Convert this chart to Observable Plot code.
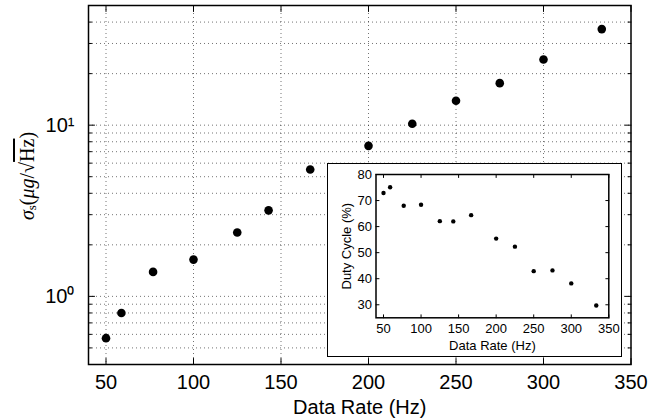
<!DOCTYPE html>
<html><head><meta charset="utf-8">
<script src="https://cdn.jsdelivr.net/npm/d3@7"></script>
<script src="https://cdn.jsdelivr.net/npm/@observablehq/plot@0.6"></script>
<style>
body{margin:0;background:#fff;}
#wrap{position:relative;width:651px;height:418px;overflow:hidden;}
#wrap > svg{position:absolute;left:0;top:0;}
#inset{position:absolute;left:327px;top:163px;width:293px;height:192px;border:1px solid #000;background:#fff;}
#inset svg{display:block;}
</style></head><body>
<div id="wrap"><div id="inset"></div></div>
<script>
// ---- data ----
const rates = [50, 58.8, 76.9, 100, 125, 142.9, 166.7, 200, 225, 250, 275, 300, 333.3];
const sigma = [0.57, 0.80, 1.39, 1.64, 2.36, 3.18, 5.51, 7.57, 10.2, 13.9, 17.6, 24.2, 36.4];
const duty  = [72.9, 75.1, 68.0, 68.4, 62.1, 62.0, 64.4, 55.4, 52.3, 42.9, 43.2, 38.2, 29.7];
const xTicks = [50, 100, 150, 200, 250, 300, 350];
const xGrid = [50, 100, 150, 200, 250, 300];
const yMajor = [1, 10];
const yMajorLabels = ["10\u2070", "10\u00B9"];
const yMinor = [0.5, 0.6, 0.7, 0.8, 0.9, 2, 3, 4, 5, 6, 7, 8, 9, 20, 30, 40];
const yGrid = [0.5, 0.6, 0.7, 0.8, 0.9, 1, 2, 3, 4, 5, 6, 7, 8, 9, 10, 20, 30, 40];
const insetYTicks = [30, 40, 50, 60, 70, 80];
const xLabel = "Data Rate (Hz)";
const insetYLabel = "Duty Cycle (%)";

const mainData = rates.map((r, i) => ({rate: r, sigma: sigma[i]}));
const insetData = rates.map((r, i) => ({rate: r, duty: duty[i]}));

const sans = "'Liberation Sans', Arial, Helvetica, sans-serif";
const tickShape = {draw(ctx, l) { ctx.moveTo(0, 0); ctx.lineTo(0, -l); }};
const tk = (data, opts) => Plot.vector(data, {anchor: "start", shape: tickShape, stroke: "#000", strokeWidth: 1, ...opts});
const gridStyle = {stroke: "#000", strokeOpacity: 0.55, strokeDasharray: "1,3", strokeWidth: 1};

// ---- main chart ----
const main = Plot.plot({
  width: 651, height: 418,
  marginLeft: 88, marginTop: 5, marginRight: 20.5, marginBottom: 54,
  x: {domain: [40, 350]},
  y: {type: "log", domain: [0.4, 50]},
  style: {fontFamily: sans, fontSize: "20px", color: "#000", background: "transparent", overflow: "visible"},
  marks: [
    Plot.gridX(xGrid, gridStyle),
    Plot.gridY(yGrid, gridStyle),
    // inward ticks
    tk(xTicks, {x: d => d, frameAnchor: "bottom", rotate: 0, length: 6}),
    tk(xTicks, {x: d => d, frameAnchor: "top", rotate: 180, length: 6}),
    tk(yMajor, {y: d => d, frameAnchor: "left", rotate: 90, length: 6}),
    tk(yMajor, {y: d => d, frameAnchor: "right", rotate: -90, length: 6}),
    tk(yMinor, {y: d => d, frameAnchor: "left", rotate: 90, length: 3}),
    tk(yMinor, {y: d => d, frameAnchor: "right", rotate: -90, length: 3}),
    Plot.axisX(xTicks, {anchor: "bottom", tickSize: 0, tickPadding: 10, label: null, fontSize: 20}),
    Plot.axisY(yMajor, {anchor: "left", tickSize: 0, tickPadding: 14, label: null, fontSize: 20,
      tickFormat: d => yMajorLabels[yMajor.indexOf(d)]}),
    Plot.text([xLabel], {text: d => d, frameAnchor: "bottom", dy: 43, lineAnchor: "middle", fontSize: 20}),
    Plot.frame({stroke: "#000", strokeWidth: 1.5}),
    Plot.dot(mainData, {x: "rate", y: "sigma", r: 4.3, fill: "#000", stroke: "none"})
  ]
});
document.getElementById("wrap").prepend(main);

// y label with math formatting
const lab = d3.select(main).append("text")
  .attr("transform", "translate(29,176) rotate(-90)")
  .attr("text-anchor", "middle")
  .attr("dominant-baseline", "middle")
  .attr("font-family", "'Liberation Serif', 'DejaVu Serif', serif")
  .attr("font-size", 20)
  .attr("fill", "#000");
lab.append("tspan").attr("font-style", "italic").text("\u03C3");
lab.append("tspan").attr("font-size", 13).attr("dy", 4).text("s");
lab.append("tspan").attr("dy", -4).text("(");
lab.append("tspan").attr("font-style", "italic").text("\u03BCg");
lab.append("tspan").text("/\u221A");
lab.append("tspan").attr("text-decoration", "overline").text("Hz");
lab.append("tspan").text(")");

// ---- inset ----
const inset = Plot.plot({
  width: 293, height: 192,
  marginLeft: 47.5, marginTop: 10, marginRight: 12.7, marginBottom: 38.7,
  x: {domain: [40, 350]},
  y: {domain: [25, 80]},
  style: {fontFamily: sans, fontSize: "13px", color: "#000", background: "#fff", overflow: "visible"},
  marks: [
    tk(xTicks, {x: d => d, frameAnchor: "bottom", rotate: 0, length: 3}),
    tk(xTicks, {x: d => d, frameAnchor: "top", rotate: 180, length: 3}),
    tk(insetYTicks, {y: d => d, frameAnchor: "left", rotate: 90, length: 3}),
    tk(insetYTicks, {y: d => d, frameAnchor: "right", rotate: -90, length: 3}),
    Plot.axisX(xTicks, {anchor: "bottom", tickSize: 0, tickPadding: 6, label: null, fontSize: 13}),
    Plot.axisY(insetYTicks, {anchor: "left", tickSize: 0, tickPadding: 4, label: null, fontSize: 13}),
    Plot.text([xLabel], {text: d => d, frameAnchor: "bottom", dy: 28, lineAnchor: "middle", fontSize: 13}),
    Plot.text([insetYLabel], {text: d => d, frameAnchor: "left", dx: -29.5, rotate: -90, textAnchor: "middle", lineAnchor: "middle", fontSize: 13}),
    Plot.frame({stroke: "#000", strokeWidth: 1.5}),
    Plot.dot(insetData, {x: "rate", y: "duty", r: 2.2, fill: "#000", stroke: "none"})
  ]
});
document.getElementById("inset").appendChild(inset);
</script>
</body></html>
